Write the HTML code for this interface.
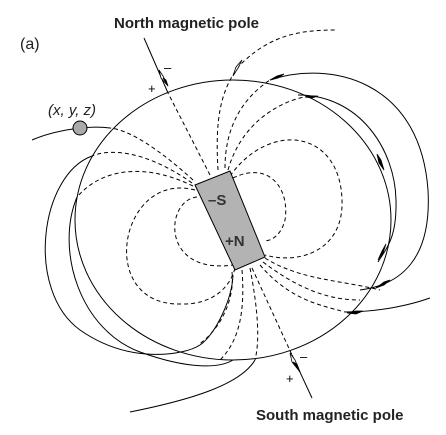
<!DOCTYPE html>
<html><head><meta charset="utf-8"><style>
html,body{margin:0;padding:0;background:#fff}
svg{display:block}
text{font-family:"Liberation Sans",sans-serif}
</style></head><body>
<svg width="446" height="435" viewBox="0 0 446 435">
<g fill="none" stroke="#000" stroke-width="1">
 <ellipse cx="233" cy="220" rx="158" ry="140"/>
 <g stroke-dasharray="4,3">
  <path d="M197,197 C165,200 160,275 233,265"/>
  <path d="M195,190 C120,170 95,305 180,304 C212,305 230,288 235,268"/>
  <path d="M193,186 C150,165 105,165 77,197"/>
  <path d="M192,183 C160,160 120,145 92,156"/>
  <path d="M193,180 C160,150 130,130 110,128"/>
  <path d="M232,272 C235,300 220,330 198,345"/>
  <path d="M242,270 C245,310 240,340 220,360"/>
  <path d="M250,268 C258,310 260,340 255,360"/>
  <path d="M210,175 L168,93"/>
  <path d="M252,268 L292,355"/>
  <path d="M218,170 C215,120 220,90 240,65 C270,35 300,30 335,30"/>
  <path d="M225,168 C225,130 240,100 270,80"/>
  <path d="M228,170 C245,110 300,95 315,96"/>
  <path d="M230,176 C270,120 340,130 342,200 C344,250 300,265 265,255"/>
  <path d="M233,178 C270,160 290,190 285,220 C280,240 265,242 265,240"/>
  <path d="M265,258 C300,280 340,280 380,290"/>
  <path d="M263,262 C300,290 330,300 360,300"/>
  <path d="M260,265 C290,300 320,305 345,312"/>
 </g>
 <g>
  <path d="M32,140 C55,130 90,125 110,128"/>
  <path d="M92,156 C40,175 25,290 80,330 C130,365 185,355 200,345 C215,335 232,300 233,275"/>
  <path d="M77,197 C55,250 80,330 140,352 C190,370 220,368 233,360"/>
  <path d="M130,412 C190,400 240,385 255,360"/>
  <path d="M144,38 L168,93"/>
  <path d="M292,355 L312,398"/>
  <path d="M270,80 C330,60 420,80 428,190 C432,260 400,285 360,290"/>
  <path d="M298,95 C360,95 395,150 396,200 C397,240 385,250 378,262"/>
  <path d="M345,312 C380,312 410,305 430,298"/>
 </g>
</g>
<g stroke="#000" stroke-width="0.8">
 <polygon points="159,70 163,76 168,86 161,78" fill="#fff"/>
 <polygon points="163,78 168,86 166,80" fill="#000"/>
 <polygon points="290,353 295,360 300,372 292,362" fill="#fff"/>
 <polygon points="293,362 300,372 297,364" fill="#000"/>
 <polygon points="242,60 238,68 233,76 236,67" fill="#fff"/>
 <polygon points="284,74 277,76 270,80 278,78" fill="#000"/>
 <polygon points="318,96 312,96 305,97 312,98" fill="#000"/>
 <polygon points="377,154 381,160 384,170 379,163" fill="#000"/>
 <polygon points="386,244 382,251 378,260 383,253" fill="#000"/>
 <polygon points="390,280 384,282 376,288 384,285" fill="#000"/>
 <polygon points="363,311 356,311 347,313 356,314" fill="#000"/>
</g>
<circle cx="80" cy="128" r="7" fill="#aaa" stroke="#000"/>
<polygon points="195,185 230,171 265,257 235,270" fill="#b3b3b3" stroke="#000"/>
<text x="208" y="205" font-size="15" font-weight="bold" fill="#333">–S</text>
<text x="225" y="246" font-size="15" font-weight="bold" fill="#333">+N</text>
<text x="114" y="28" font-size="15" font-weight="bold" fill="#222">North magnetic pole</text>
<text x="256" y="420" font-size="15" font-weight="bold" fill="#222">South magnetic pole</text>
<text x="20" y="49" font-size="16" fill="#222">(a)</text>
<text x="48" y="115" font-size="15" font-style="italic" fill="#222">(x, y, z)</text>
<text x="164" y="72" font-size="13">–</text>
<text x="148" y="93" font-size="13">+</text>
<text x="300" y="361" font-size="13">–</text>
<text x="286" y="383" font-size="13">+</text>
</svg>
</body></html>
